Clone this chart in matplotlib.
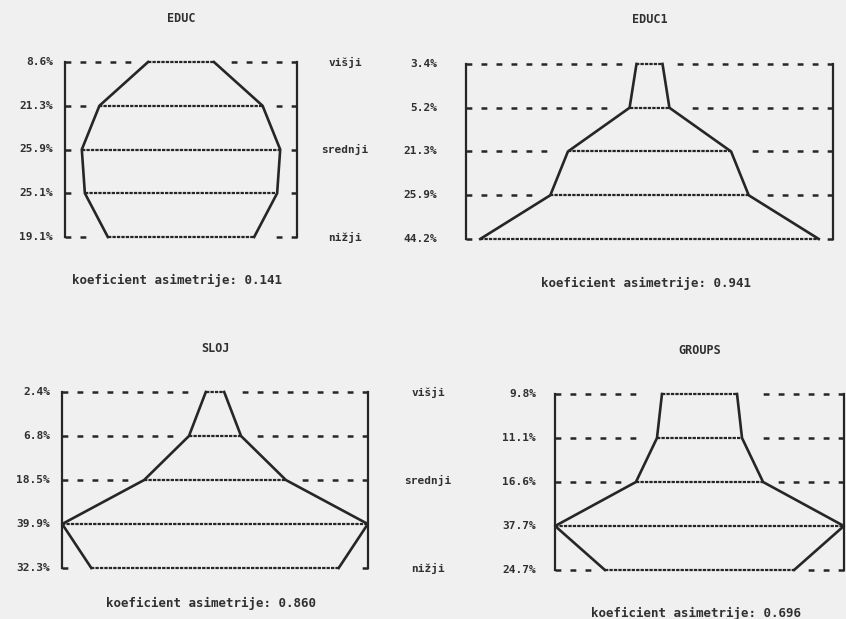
import math
import matplotlib
matplotlib.use('Agg')
import matplotlib.pyplot as plt

# values
titles = ['EDUC', 'EDUC1', 'SLOJ', 'GROUPS']
educ = [8.6, 21.3, 25.9, 25.1, 19.1]
educ1 = [3.4, 5.2, 21.3, 25.9, 44.2]
sloj = [2.4, 6.8, 18.5, 39.9, 32.3]
groups = [9.8, 11.1, 16.6, 37.7, 24.7]
koef = [0.141, 0.941, 0.860, 0.696]
cat_labels = ['višji', 'srednji', 'nižji']
cat_levels = [0, 2, 4]

series = [educ, educ1, sloj, groups]

W, H, DPI = 846, 619, 100
PX = 72 / DPI          # pixels -> points
SCALE = 3.83           # pixels per percent, each side of centre
GAP = 13 / SCALE       # blank space between coarse dashes and the outline
TICK = 6 / SCALE       # bracket tick length

# panel frames in pixels: left, right, top, bottom, label gap, koef gap
frames = [
    (65, 297, 62, 237, 12, 43),
    (466, 833, 64, 239, 29, 44),
    (62, 368, 392, 568, 12, 35),
    (555, 844, 394, 570, 19, 43),
]
# where the višji/srednji/nižji column sits (offset from right bracket, px)
cat_gap = {0: 48, 2: 60}

plt.rcParams['lines.scale_dashes'] = False
ink = '#262626'
txt = '#303030'
font = dict(family='DejaVu Sans Mono', weight='bold', color=txt)

fig = plt.figure(figsize=(W / DPI, H / DPI), dpi=DPI)
fig.patch.set_facecolor('#f0f0f0')

DASH_ON, DASH_OFF = 4.2, 6.6           # points
coarse = (0, (DASH_ON, DASH_OFF))
dense = (0, (2.4, 0.8))
on_u = DASH_ON / PX / SCALE             # in data units
per_u = (DASH_ON + DASH_OFF) / PX / SCALE


def whole_dashes(length):
    # trim a run so it stops at the end of a full dash
    n = math.floor((length - on_u) / per_u) + 1
    return max(n - 1, 0) * per_u + on_u


for i, (title, vals) in enumerate(zip(titles, series)):
    l, r, t, b, lab_gap, k_gap = frames[i]
    ax = fig.add_axes([l / W, 1 - b / H, (r - l) / W, (b - t) / H])
    ax.set_axis_off()
    B = (r - l) / 2 / SCALE
    ax.set_xlim(-B, B)
    ax.set_ylim(4, 0)
    levels = list(range(len(vals)))

    # brackets
    ax.plot([-B, -B], [0, 4], color=ink, lw=1.6, clip_on=False)
    ax.plot([B, B], [0, 4], color=ink, lw=1.6, clip_on=False)

    for y, v in zip(levels, vals):
        if B - v > TICK * 1.5:
            run = whole_dashes(max(B - v - GAP, on_u))
            ax.plot([-B, -B + run], [y, y], color=ink, lw=1.8,
                    linestyle=coarse, clip_on=False)
            ax.plot([B, B - run], [y, y], color=ink, lw=1.8,
                    linestyle=coarse, clip_on=False)
        ax.plot([-v, v], [y, y], color=ink, lw=1.6, linestyle=dense,
                clip_on=False)
        ax.annotate(f'{v:.1f}%', xy=(-B, y), xytext=(-lab_gap * PX, 0),
                    textcoords='offset points', ha='right', va='center',
                    fontsize=8, **font)

    ax.plot([-v for v in vals], levels, color=ink, lw=1.9, clip_on=False)
    ax.plot(vals, levels, color=ink, lw=1.9, clip_on=False)

    ax.annotate(title, xy=(0, 0), xytext=(0, 44 * PX),
                textcoords='offset points', ha='center', va='center',
                fontsize=8.5, **font)
    ax.annotate(f'koeficient asimetrije: {koef[i]:.3f}', xy=(0, 4),
                xytext=(-4 * PX, -k_gap * PX), textcoords='offset points',
                ha='center', va='center', fontsize=9, **font)

    if i in cat_gap:
        for name, lv in zip(cat_labels, cat_levels):
            ax.annotate(name, xy=(B, lv), xytext=(cat_gap[i] * PX, 0),
                        textcoords='offset points', ha='center',
                        va='center', fontsize=8, **font)

fig.savefig('out.png', dpi=DPI, facecolor=fig.get_facecolor())
